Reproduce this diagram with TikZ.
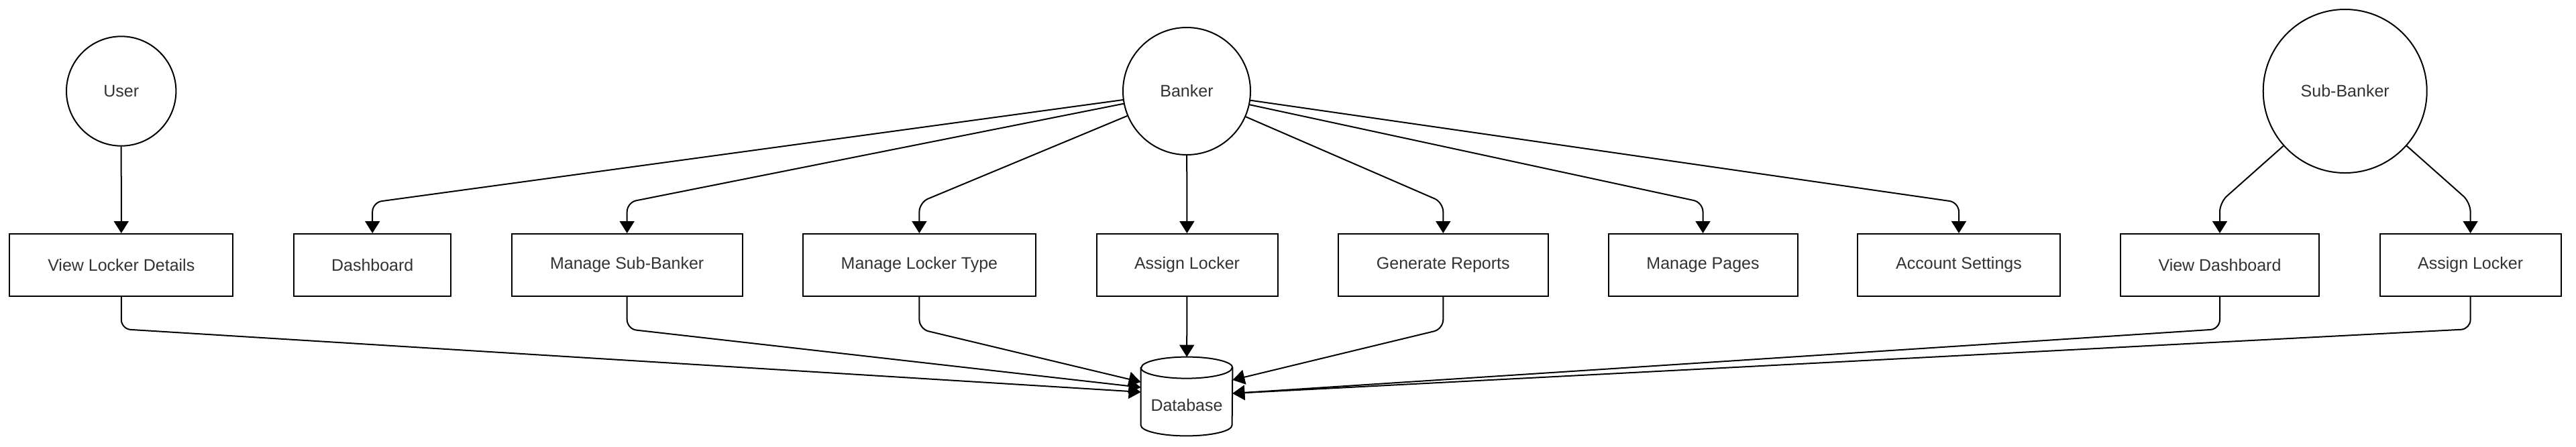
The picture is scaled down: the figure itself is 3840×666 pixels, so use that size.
\documentclass[tikz,border=0pt]{standalone}
\usepackage{fontspec}
\setmainfont{Liberation Sans}
\usetikzlibrary{arrows.meta,calc}
\definecolor{txt}{RGB}{51,51,51}
\begin{document}
\begin{tikzpicture}[x=0.5pt,y=-0.5pt,
  every node/.style={font=\fontsize{12.5pt}{15pt}\selectfont, text=txt},
  actor/.style={circle, draw=black, line width=1pt, inner sep=0pt, fill=white},
  procbox/.style={rectangle, draw=black, line width=1pt, minimum height=46.5pt, inner sep=0pt, fill=white},
  dbbox/.style={rectangle, draw=none, minimum width=68pt, minimum height=58.5pt, inner sep=0pt},
  conn/.style={draw=black, line width=1pt, rounded corners=7pt, -{Triangle[width=11pt,length=9pt]}},
  outline/.style={draw=black, line width=1pt, fill=white},
]
\useasboundingbox (0,0) rectangle (3840,666);
\fill[white] (0,0) rectangle (3840,666);

% actors
\node[actor, minimum size=81.7pt] (user) at (180.7,136) {User};
\node[actor, minimum size=95pt] (banker) at (1769,136) {Banker};
\node[actor, minimum size=122pt] (sub) at (3495.7,136) {Sub-Banker};

% processes
\node[procbox, minimum width=166.5pt] (vld) at (180.8,395.5) {View Locker Details};
\node[procbox, minimum width=117pt] (dash) at (555.2,395.5) {Dashboard};
\node[procbox, minimum width=172pt] (msb) at (934.7,395.5) {Manage Sub-Banker};
\node[procbox, minimum width=173.5pt] (mlt) at (1370.4,395.5) {Manage Locker Type};
\node[procbox, minimum width=135pt] (al) at (1769.5,395.5) {Assign Locker};
\node[procbox, minimum width=156.5pt] (gr) at (2151.3,395.5) {Generate Reports};
\node[procbox, minimum width=141pt] (mp) at (2538.5,395.5) {Manage Pages};
\node[procbox, minimum width=150.75pt] (as) at (2920,395.5) {Account Settings};
\node[procbox, minimum width=148pt] (vd) at (3309,395.5) {View Dashboard};
\node[procbox, minimum width=135pt] (al2) at (3682.6,395.5) {Assign Locker};

% database
\node[dbbox] (db) at (1769,591.5) {};
\path[outline] ($(db.north west)+(0,16)$) -- ($(db.south west)+(0,-16)$)
  arc[start angle=180, end angle=360, x radius=34pt, y radius=8pt]
  -- ($(db.north east)+(0,16)$)
  arc[start angle=0, end angle=180, x radius=34pt, y radius=8pt] -- cycle;
\draw[line width=1pt] ($(db.north west)+(0,16)$)
  arc[start angle=180, end angle=360, x radius=34pt, y radius=8pt];
\node at ($(db.center)+(0,13.5)$) {Database};

% connectors from actors
\draw[conn] (user) -- (vld);
\draw[conn] (banker) -- ($(dash.north)+(0,-46)$) -- (dash.north);
\draw[conn] (banker) -- ($(msb.north)+(0,-46)$) -- (msb.north);
\draw[conn] (banker) -- ($(mlt.north)+(0,-46)$) -- (mlt.north);
\draw[conn] (banker) -- (al);
\draw[conn] (banker) -- ($(gr.north)+(0,-46)$) -- (gr.north);
\draw[conn] (banker) -- ($(mp.north)+(0,-46)$) -- (mp.north);
\draw[conn] (banker) -- ($(as.north)+(0,-46)$) -- (as.north);
\draw[conn] (sub) -- ($(vd.north)+(0,-46)$) -- (vd.north);
\draw[conn] (sub) -- ($(al2.north)+(0,-46)$) -- (al2.north);

% connectors to database
\draw[conn] (vld.south) -- ++(0,48) -- ($(db.west)+(0,-6.5)$);
\draw[conn] (msb.south) -- ++(0,48) -- ($(db.west)+(0,-13.5)$);
\draw[conn] (mlt.south) -- ++(0,48) -- ($(db.west)+(0,-21.5)$);
\draw[conn] (al) -- (db);
\draw[conn] (gr.south) -- ++(0,48) -- ($(db.east)+(0,-24.5)$);
\draw[conn] (vd.south) -- ++(0,48) -- ($(db.east)+(0,-4.5)$);
\draw[conn] (al2.south) -- ++(0,48) -- ($(db.east)+(0,-4.5)$);
\end{tikzpicture}
\end{document}
